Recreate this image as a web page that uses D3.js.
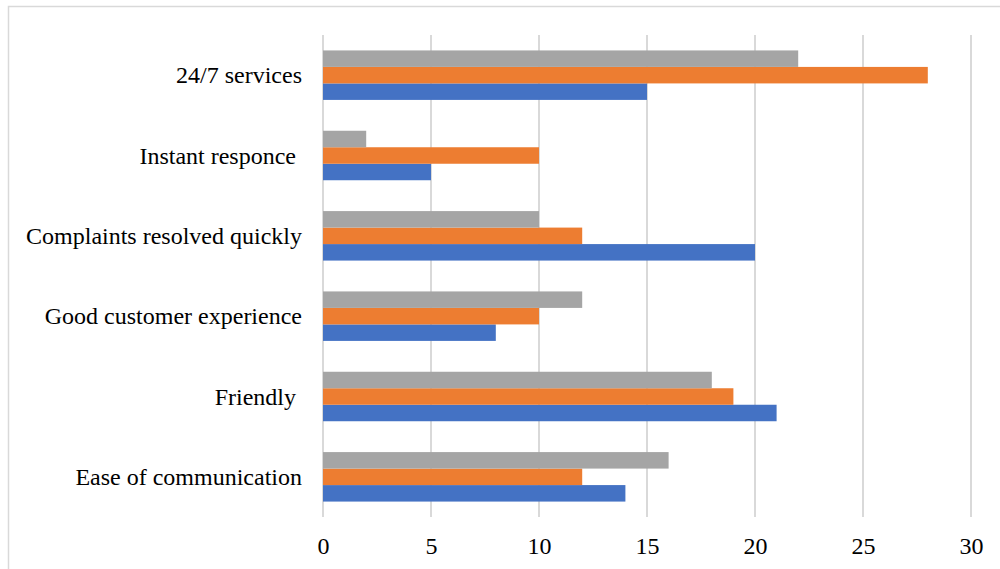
<!DOCTYPE html>
<html><head><meta charset="utf-8">
<script src="https://cdn.jsdelivr.net/npm/d3@7"></script>
<style>html,body{margin:0;padding:0;background:#fff;}svg{display:block;}
text{font-family:"Liberation Serif","Times New Roman",Times,Tinos,"DejaVu Serif",serif;}</style>
</head><body>
<svg id="c" width="1000" height="569"></svg>
<script>
const categories = ["Ease of communication", "Friendly ", "Good customer experience", "Complaints resolved quickly", "Instant responce ", "24/7 services"];
const seriesBlue = [14, 21, 8, 20, 5, 15];
const seriesOrange = [12, 19, 10, 12, 10, 28];
const seriesGray = [16, 18, 12, 10, 2, 22];
const xTicks = [0, 5, 10, 15, 20, 25, 30];

const series = [
  {key: "s1", values: seriesBlue, color: "#4472C4"},
  {key: "s2", values: seriesOrange, color: "#ED7D31"},
  {key: "s3", values: seriesGray, color: "#A5A5A5"}
];

const svg = d3.select("#c");
const m = {left: 323, right: 971, top: 35, bottom: 517};
const FONT = '"Liberation Serif","Times New Roman",Times,Tinos,"DejaVu Serif",serif';

svg.append("rect").attr("x", 8.5).attr("y", 6.5).attr("width", 1100).attr("height", 700)
  .attr("fill", "none").attr("stroke", "#d9d9d9").attr("stroke-width", 1.5);

const x = d3.scaleLinear().domain([0, 30]).range([m.left, m.right]);
const y = d3.scaleBand().domain(d3.reverse(categories.slice())).range([m.top, m.bottom]).padding(0);
const groupFrac = 0.616;
const inner = d3.scaleBand().domain(["s3", "s2", "s1"]).range([0, y.bandwidth() * groupFrac]).padding(0);

// gridlines
svg.append("g").selectAll("line").data(xTicks).join("line")
  .attr("x1", d => x(d)).attr("x2", d => x(d))
  .attr("y1", m.top).attr("y2", m.bottom)
  .attr("stroke", "#d9d9d9").attr("stroke-width", 2);

// bars
const off = y.bandwidth() * (1 - groupFrac) / 2;
series.forEach(s => {
  svg.append("g").selectAll("rect").data(categories.map((c, i) => ({c, v: s.values[i]}))).join("rect")
    .attr("x", x(0))
    .attr("y", d => y(d.c) + off + inner(s.key))
    .attr("width", d => x(d.v) - x(0))
    .attr("height", inner.bandwidth())
    .attr("fill", s.color);
});

// category labels
svg.append("g").selectAll("text").data(categories).join("text")
  .attr("x", 302).attr("y", d => y(d) + y.bandwidth() / 2 + 8)
  .attr("text-anchor", "end")
  .style("white-space", "pre")
  .style("font-family", FONT)
  .attr("font-size", 24).attr("fill", "#000")
  .text(d => d);

// x axis labels
const xAxis = d3.axisBottom(x).tickValues(xTicks).tickSize(0).tickPadding(0);
const ax = svg.append("g").attr("transform", `translate(0,554)`).call(xAxis);
ax.attr("font-family", null);
ax.select(".domain").remove();
ax.selectAll("text").style("font-family", FONT)
  .attr("font-size", 24).attr("fill", "#000").attr("dy", 0).attr("y", 0);
</script>
</body></html>
